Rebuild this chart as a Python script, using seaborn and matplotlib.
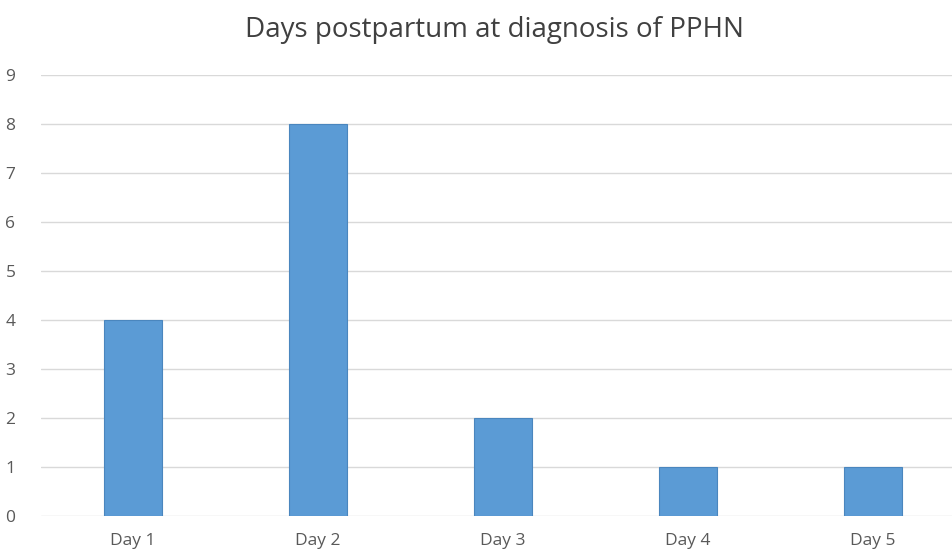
import matplotlib
matplotlib.use("Agg")
import matplotlib.pyplot as plt
import seaborn as sns
import pandas as pd

categories = ["Day 1", "Day 2", "Day 3", "Day 4", "Day 5"]
values = [4, 8, 2, 1, 1]
title = "Days postpartum at diagnosis of PPHN"

sns.set_style("white")
plt.rcParams["font.family"] = ["Open Sans", "DejaVu Sans"]

df = pd.DataFrame({"day": categories, "count": values})

fig = plt.figure(figsize=(9.52, 5.51), dpi=100)
ax = fig.add_axes([40.5 / 952, 35 / 551, (952 - 40.5) / 952, (516 - 75) / 551])

sns.barplot(data=df, x="day", y="count", color="#5B9BD5", saturation=1,
            width=0.31, ax=ax, zorder=3, edgecolor="#4A86BE", linewidth=0.8)

ax.set_ylim(0, 9)
ax.set_xlim(-0.5, 4.427)
ax.set_yticks(range(0, 10))
ax.yaxis.grid(True, color="#D9D9D9", linewidth=1, zorder=0)
ax.set_axisbelow(True)
for s in ax.spines.values():
    s.set_visible(False)
ax.set_xlabel("")
ax.set_ylabel("")
ax.tick_params(axis="y", length=0, pad=18, labelsize=12.5, labelcolor="#595959")
ax.tick_params(axis="x", length=0, pad=12, labelsize=12.5, labelcolor="#595959")

fig.text(494 / 952, 1 - 30 / 551, title, ha="center", va="center",
         fontsize=20, color="#404040")

fig.savefig("out.png", dpi=100)
